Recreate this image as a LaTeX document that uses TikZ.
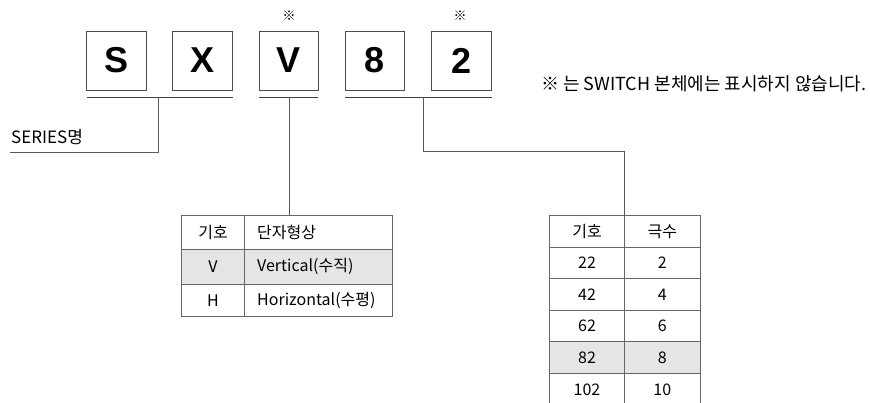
\documentclass[tikz,border=0pt]{standalone}
\usepackage{fontspec}
\setmainfont{Noto Sans CJK KR}
\newfontfamily\boxfont{Liberation Sans}
\begin{document}
\begin{tikzpicture}[x=1pt,y=-1pt,
  codebox/.style={draw=black!70,line width=0.9pt,minimum width=59.5pt,minimum height=59pt,inner sep=0pt,font=\boxfont\bfseries\fontsize{36}{36}\selectfont},
  uline/.style={draw=black!75,line width=0.9pt},
  conn/.style={draw=black!65,line width=0.8pt},
  cellline/.style={draw=black!60,line width=0.8pt},
  txt/.style={inner sep=0pt,font=\fontsize{16}{16}\selectfont},
  notetxt/.style={inner sep=0pt,font=\fontsize{18}{18}\selectfont},
  sertxt/.style={inner sep=0pt,font=\fontsize{17}{17}\selectfont},
  star/.style={inner sep=0pt,font=\fontsize{13}{13}\selectfont},
  shade/.style={fill=black!10}
]
\useasboundingbox (0,0) rectangle (870,403);

% code boxes
\node[codebox] (bS) at (116.3,60.5) {S};
\node[codebox] (bX) at (202.5,60.5) {X};
\node[codebox] (bV) at (288.7,60.5) {V};
\node[codebox] (b8) at (375,60.5) {8};
\node[codebox] (b2) at (461.3,60.5) {2};
\node[star] (sV) at (289,16) {※};
\node[star] (s2) at (460,16) {※};

% underlines
\coordinate (u1a) at (86.6,97.3); \coordinate (u1b) at (233.3,97.3);
\coordinate (u2a) at (259,97.3);  \coordinate (u2b) at (318.3,97.3);
\coordinate (u3a) at (345.3,97.3);\coordinate (u3b) at (491.5,97.3);
\draw[uline] (u1a) -- (u1b);
\draw[uline] (u2a) -- (u2b);
\draw[uline] (u3a) -- (u3b);

% note
\node[notetxt,anchor=west] (note) at (541,84) {※ 는 SWITCH 본체에는 표시하지 않습니다.};

% series label
\node[sertxt,anchor=south west] (series) at (11,145) {SERIES명};
\coordinate (c1top) at (158,97.3);
\coordinate (c1bend) at (158,152.3);
\coordinate (c1end) at (10,152.3);
\draw[conn] (c1top) -- (c1bend) -- (c1end);

% table 1
\fill[shade] (181.7,249.3) rectangle (392.3,284);
\draw[cellline] (181.7,215.7) rectangle (392.3,316.7);
\draw[cellline] (181.7,249.3) -- (392.3,249.3);
\draw[cellline] (181.7,284) -- (392.3,284);
\draw[cellline] (244.3,215.7) -- (244.3,316.7);
\coordinate (t1top) at (289.7,215.7);
\node[txt] (t1h1) at (213,232.5) {기호};
\node[txt,anchor=west] (t1h2) at (257,232.5) {단자형상};
\node[txt] (t1a1) at (213,266.6) {V};
\node[txt,anchor=west] (t1a2) at (257,266.6) {Vertical(수직)};
\node[txt] (t1b1) at (213,300.3) {H};
\node[txt,anchor=west] (t1b2) at (257,300.3) {Horizontal(수평)};
\coordinate (c2top) at (289.7,97.3);
\draw[conn] (c2top) -- (t1top);

% table 2
\fill[shade] (549.3,341.7) rectangle (700,373.3);
\draw[cellline] (549.3,405) -- (549.3,215.7) -- (700,215.7) -- (700,405);
\foreach \yy in {247.3,278.9,310.5,341.7,373.3}
  \draw[cellline] (549.3,\yy) -- (700,\yy);
\draw[cellline] (624.7,215.7) -- (624.7,405);
\coordinate (t2top) at (624.7,215.7);
\node[txt] (h1) at (587,231.5) {기호};
\node[txt] (h2) at (662.3,231.5) {극수};
\node[txt] (r1a) at (587,263) {22};  \node[txt] (r1b) at (662.3,263) {2};
\node[txt] (r2a) at (587,294.7) {42}; \node[txt] (r2b) at (662.3,294.7) {4};
\node[txt] (r3a) at (587,326.2) {62}; \node[txt] (r3b) at (662.3,326.2) {6};
\node[txt] (r4a) at (587,357.5) {82}; \node[txt] (r4b) at (662.3,357.5) {8};
\node[txt] (r5a) at (587,389.5) {102};\node[txt] (r5b) at (662.3,389.5) {10};
\coordinate (c3top) at (423.7,97.3);
\coordinate (c3b1) at (423.7,151.7);
\coordinate (c3b2) at (624.7,151.7);
\draw[conn] (c3top) -- (c3b1) -- (c3b2) -- (t2top);
\end{tikzpicture}
\end{document}
